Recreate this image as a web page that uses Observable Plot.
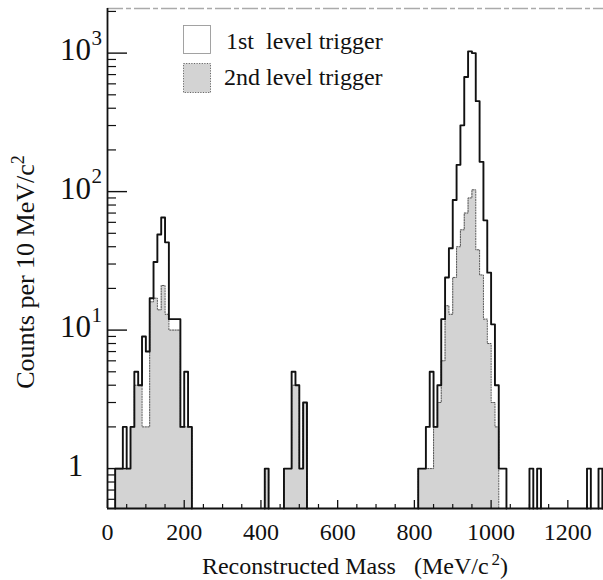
<!DOCTYPE html>
<html>
<head>
<meta charset="utf-8">
<script src="https://cdn.jsdelivr.net/npm/d3@7"></script>
<script src="https://cdn.jsdelivr.net/npm/@observablehq/plot@0.6"></script>
<style>
  html, body { margin: 0; padding: 0; background: #fff; }
  #chart { width: 603px; height: 580px; }
</style>
</head>
<body>
<div id="chart"></div>
<script>
// Reconstructed-mass histogram, 10 MeV/c^2 bins (lower bin edges)
const binWidth = 10;
const binStart = [
  20, 30, 40, 50, 60, 70, 80, 90, 100, 110, 120, 130, 140, 150, 160, 170, 180, 190, 200, 210,
  410, 460, 470, 480, 490, 500, 510,
  810, 820, 830, 840, 850, 860, 870, 880, 890, 900, 910, 920, 930, 940, 950, 960, 970, 980, 990, 1000, 1010, 1020, 1030,
  1100, 1120, 1250, 1280
];
// Counts after the 1st level trigger
const countsFirst = [
  1, 1, 2, 1, 2, 5, 4, 9, 7, 17, 31, 49, 65, 43, 12, 12, 12, 2, 5, 2,
  1, 1, 1, 5, 4, 1, 3,
  1, 1, 2, 5, 2, 4, 12, 24, 39, 87, 156, 301, 672, 1030, 1000, 450, 164, 62, 26, 11, 4, 1, 1,
  1, 1, 1, 1
];
// Counts after the 2nd level trigger
const countsSecond = [
  1, 1, 1, 1, 2, 4, 4, 2, 2, 16, 17, 14, 21, 13, 10, 10, 10, 2, 2, 2,
  1, 1, 1, 4, 4, 1, 3,
  1, 1, 1, 1, 2, 3, 6, 15, 13, 24, 40, 53, 70, 90, 103, 38, 25, 12, 8, 3, 2, 0, 0,
  0, 0, 0, 0
];

// Axis ticks and labels
const xMajor = [0, 200, 400, 600, 800, 1000, 1200];
const xMinor = [50, 100, 150, 250, 300, 350, 450, 500, 550, 650, 700, 750, 850, 900, 950, 1050, 1100, 1150, 1250];
const yMajor = [1, 10, 100, 1000];
const yMajorBase = ["1", "10", "10", "10"];
const yMajorExp = ["", "1", "2", "3"];
const yMinor = [0.6, 0.7, 0.8, 0.9, 2, 3, 4, 5, 6, 7, 8, 9, 20, 30, 40, 50, 60, 70, 80, 90,
                200, 300, 400, 500, 600, 700, 800, 900, 2000];
const legendLabels = ["1st  level trigger", "2nd level trigger"];
const xTitle = ["Reconstructed Mass   (MeV/c", "2", ")"];
const yTitle = ["Counts per 10 MeV/c", "2"];

const xDomain = [0, 1293];
const yDomain = [0.515, 2100];
const floorCount = yDomain[0];
const serif = "'Liberation Serif', 'Times New Roman', serif";
const ink = "#111";
const shade = "#d3d3d3";
const majorTickX = 8, minorTickX = 4, majorTickY = 20, minorTickY = 9;

// Turn bins into step-outline vertices, one run per block of adjacent non-empty bins
function stepRuns(starts, counts) {
  const pts = [];
  let run = -1, prevEnd = null;
  starts.forEach((m, i) => {
    const c = counts[i];
    if (!(c > 0)) {
      if (prevEnd !== null) { pts.push({x: prevEnd, y: floorCount, run}); prevEnd = null; }
      return;
    }
    if (prevEnd !== m) {
      if (prevEnd !== null) pts.push({x: prevEnd, y: floorCount, run});
      run++;
      pts.push({x: m, y: floorCount, run});
    }
    pts.push({x: m, y: c, run});
    prevEnd = m + binWidth;
  });
  if (prevEnd !== null) pts.push({x: prevEnd, y: floorCount, run});
  return pts;
}

const firstSteps = stepRuns(binStart, countsFirst);
const secondSteps = stepRuns(binStart, countsSecond);
const noText = () => "";

const svg = Plot.plot({
  width: 603,
  height: 580,
  marginTop: 8,
  marginBottom: 72,
  marginLeft: 107,
  marginRight: 0,
  style: {background: "#fff", fontFamily: serif, color: ink},
  x: {domain: xDomain, label: null},
  y: {type: "log", domain: yDomain, label: null},
  marks: [
    // 2nd level trigger: shaded area with dotted outline
    Plot.area(secondSteps, {x1: "x", y1: () => floorCount, y2: "y", z: "run", curve: "step-after", fill: shade}),
    Plot.line(secondSteps, {x: "x", y: "y", z: "run", curve: "step-after", stroke: "#555", strokeWidth: 1, strokeDasharray: "1.2,1.4"}),
    // 1st level trigger: solid outline
    Plot.line(firstSteps, {x: "x", y: "y", z: "run", curve: "step-after", stroke: ink, strokeWidth: 1.9}),
    // frame
    Plot.ruleY([yDomain[1]], {stroke: "#aaa", strokeWidth: 1.4, strokeDasharray: "16,3,5,3"}),
    Plot.ruleX([xDomain[0]], {stroke: ink, strokeWidth: 1.8}),
    Plot.ruleY([floorCount], {stroke: ink, strokeWidth: 1.8}),
    // ticks pointing into the frame
    Plot.axisX(xMajor, {anchor: "bottom", tickSize: majorTickX, dy: -majorTickX, tickFormat: noText, label: null, stroke: ink, strokeWidth: 1.3}),
    Plot.axisX(xMinor, {anchor: "bottom", tickSize: minorTickX, dy: -minorTickX, tickFormat: noText, label: null, stroke: ink, strokeWidth: 1.2}),
    Plot.axisX(xMajor, {anchor: "bottom", tickSize: 0, tickPadding: 14, fontSize: 24, fontFamily: serif, fill: ink, label: null, tickFormat: d => `${d}`}),
    Plot.axisY(yMajor, {anchor: "left", tickSize: majorTickY, dx: majorTickY, tickFormat: noText, label: null, stroke: ink, strokeWidth: 1.4}),
    Plot.axisY(yMinor, {anchor: "left", tickSize: minorTickY, dx: minorTickY, tickFormat: noText, label: null, stroke: ink, strokeWidth: 1.2}),
    // decade labels: base and exponent
    Plot.text(yMajor, {y: d => d, text: (d, i) => yMajorBase[i], frameAnchor: "left", dx: -32, dy: -3,
      textAnchor: "middle", fontSize: 31, fontFamily: serif, fill: ink}),
    Plot.text(yMajor, {y: d => d, text: (d, i) => yMajorExp[i], frameAnchor: "left", dx: -16, dy: -15,
      textAnchor: "start", fontSize: 21, fontFamily: serif, fill: ink})
  ]
});

const root = d3.select(svg);

// Axis titles with superscript
const xt = root.append("text")
  .attr("x", 355).attr("y", 574)
  .attr("text-anchor", "middle")
  .attr("font-family", serif).attr("font-size", 24).attr("fill", ink)
  .style("white-space", "pre");
xt.append("tspan").text(xTitle[0]);
xt.append("tspan").attr("dx", 3).attr("dy", -9).attr("font-size", 17).text(xTitle[1]);
xt.append("tspan").attr("dy", 9).text(xTitle[2]);

const yt = root.append("text")
  .attr("transform", "translate(34,272) rotate(-90)")
  .attr("text-anchor", "middle")
  .attr("font-family", serif).attr("font-size", 26).attr("fill", ink);
yt.append("tspan").text(yTitle[0]);
yt.append("tspan").attr("dy", -10).attr("font-size", 18).text(yTitle[1]);

// Legend
const lg = root.append("g").attr("font-family", serif).attr("font-size", 24).attr("fill", ink)
  .attr("text-anchor", "start");
lg.append("rect").attr("x", 183.5).attr("y", 25.5).attr("width", 27).attr("height", 28)
  .attr("fill", "#fff").attr("stroke", "#999").attr("stroke-width", 0.9);
lg.append("rect").attr("x", 183.5).attr("y", 63.5).attr("width", 27).attr("height", 29)
  .attr("fill", shade).attr("stroke", "#666").attr("stroke-width", 1).attr("stroke-dasharray", "1.2,1.4");
lg.append("text").attr("x", 226).attr("y", 49).attr("text-anchor", "start").style("white-space", "pre").text(legendLabels[0]);
lg.append("text").attr("x", 224).attr("y", 85).attr("text-anchor", "start").style("white-space", "pre").text(legendLabels[1]);

document.getElementById("chart").appendChild(svg);
</script>
</body>
</html>
